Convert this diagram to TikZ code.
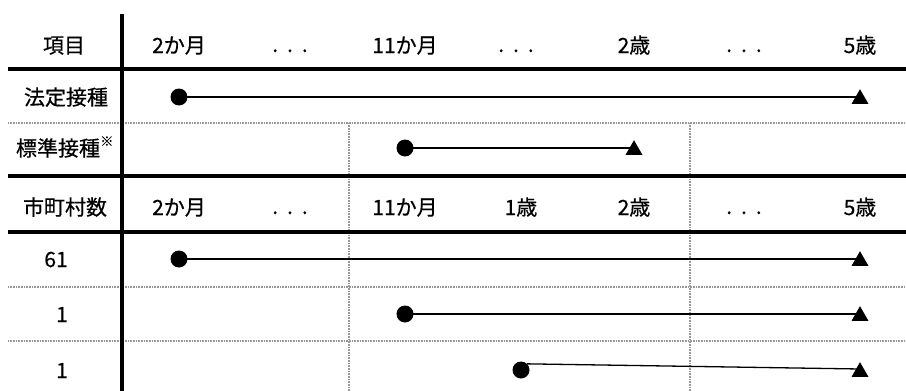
\documentclass[tikz,border=0pt]{standalone}
\usepackage{fontspec}
\setmainfont{Noto Sans CJK JP}[FakeBold=0.5]
\usetikzlibrary{shapes.geometric}
\tikzset{
  thick rule/.style={line width=4pt},
  dot rule/.style={draw=gray!80, line width=1.6pt, dash pattern=on 1pt off 0.6pt},
  lbl/.style={anchor=base, inner sep=0pt, font=\fontsize{21}{21}\selectfont},
  startdot/.style={circle, fill=black, minimum size=17pt, inner sep=0pt},
  enddot/.style={regular polygon, regular polygon sides=3, fill=black, minimum size=19.6pt, inner sep=0pt},
  span/.style={line width=1.3pt}
}
\newcommand{\mydots}{.\hspace{9pt}.\hspace{9pt}.}
\begin{document}
\begin{tikzpicture}[x=1pt, y=-1pt]
\useasboundingbox (0,0) rectangle (906,391);
% dotted grid
\draw[dot rule] (8,123) -- (906,123);
\draw[dot rule] (8,287) -- (906,287);
\draw[dot rule] (8,341) -- (906,341);
\draw[dot rule] (349,123) -- (349,391);
\draw[dot rule] (690,123) -- (690,391);
% thick grid
\draw[thick rule] (8,69) -- (906,69);
\draw[thick rule] (8,176) -- (906,176);
\draw[thick rule] (8,232) -- (906,232);
\draw[thick rule] (122,14) -- (122,391);
% header row 1
\node[lbl] (h0) at (64,53) {項目};
\node[lbl] (h1) at (179,53) {2か月};
\node[lbl] (h2) at (290,52) {\mydots};
\node[lbl] (h3) at (405,53) {11か月};
\node[lbl] (h4) at (516,52) {\mydots};
\node[lbl] (h5) at (634,53) {2歳};
\node[lbl] (h6) at (744,52) {\mydots};
\node[lbl] (h7) at (860,53) {5歳};
% row labels
\node[lbl] (r1) at (66,105) {法定接種};
\node[lbl] (r2) at (58,156) {標準接種};
\node[anchor=base west, inner sep=0pt, font=\fontsize{13}{13}\selectfont] (r2s) at (r2.base east) [yshift=10pt] {※};
% header row 2
\node[lbl] (g0) at (65,215) {市町村数};
\node[lbl] (g1) at (179,215) {2か月};
\node[lbl] (g2) at (290,214) {\mydots};
\node[lbl] (g3) at (405,215) {11か月};
\node[lbl] (g4) at (521,215) {1歳};
\node[lbl] (g5) at (634,215) {2歳};
\node[lbl] (g6) at (744,214) {\mydots};
\node[lbl] (g7) at (860,215) {5歳};
% counts
\node[lbl] (n1) at (56,267) {61};
\node[lbl] (n2) at (62,322) {1};
\node[lbl] (n3) at (62,378) {1};
% spans
\node[startdot] (a1) at (179,97) {};
\node[enddot] (b1) at (860,99) {};
\draw[span] (a1.center) -- (a1 -| b1);
\node[startdot] (a2) at (405,148) {};
\node[enddot] (b2) at (634,150) {};
\draw[span] (a2.center) -- (a2 -| b2);
\node[startdot] (a4) at (179,259) {};
\node[enddot] (b4) at (860,261) {};
\draw[span] (a4.center) -- (a4 -| b4);
\node[startdot] (a5) at (405,314) {};
\node[enddot] (b5) at (860,316) {};
\draw[span] (a5.center) -- (a5 -| b5);
\node[startdot] (a6) at (521,370) {};
\node[enddot] (b6) at (860,372) {};
\draw[span] (a6.45) -- ([yshift=3pt]b6.center);
\end{tikzpicture}
\end{document}
